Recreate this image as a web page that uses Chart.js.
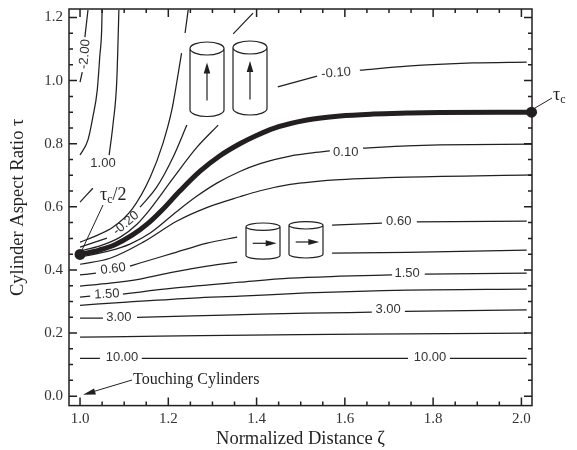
<!DOCTYPE html>
<html>
<head>
<meta charset="utf-8">
<title>Cylinder aspect ratio contours</title>
<script src="https://cdn.jsdelivr.net/npm/chart.js@4"></script>
<style>
  body { margin: 0; background: #fff; }
  canvas { display: block; }
</style>
</head>
<body>
<canvas id="chart01" width="577" height="450"></canvas>
<script>
// contour values, [distance, aspect ratio], null = break in the line
var contourA = [[1.0, 0.995], [1.005, 1.027], null, [1.011, 1.138], [1.018, 1.224]];
var contourB = [[1.0, 0.764], [1.018, 0.812], [1.029, 0.884], [1.039, 0.97], [1.045, 1.081], [1.049, 1.16], [1.05, 1.224]];
var contourC = [[1.0, 0.615], [1.029, 0.659], null, [1.066, 0.764], [1.075, 0.865], [1.083, 0.992], [1.086, 1.119], [1.088, 1.224]];
var contourD = [[1.0, 0.488], [1.029, 0.504], [1.075, 0.536], [1.118, 0.593], [1.159, 0.694], [1.188, 0.802], [1.208, 0.907], [1.22, 1.002], [1.23, 1.087], null, [1.238, 1.151], [1.245, 1.224]];
var contourE = [[1.0, 0.472], [1.061, 0.501], null, [1.136, 0.599], [1.174, 0.663], [1.211, 0.758], [1.242, 0.859], null, [1.347, 1.148], [1.392, 1.214]];
var contourF = [[1.0, 0.46], [1.045, 0.476], [1.091, 0.504], [1.129, 0.545], [1.159, 0.593], [1.211, 0.691], [1.265, 0.789], [1.313, 0.859]];
var criticalLine = [[1.0, 0.449], [1.043, 0.463], [1.079, 0.48], [1.118, 0.51], [1.152, 0.545], [1.186, 0.59], [1.226, 0.65], [1.272, 0.713], [1.317, 0.762], [1.362, 0.8], [1.401, 0.827], [1.437, 0.848], [1.514, 0.875], [1.589, 0.888], [1.664, 0.894], [1.741, 0.897], [1.815, 0.899], [2.023, 0.9]];
var contourG = [[1.0, 0.441], [1.068, 0.461], [1.113, 0.482], [1.159, 0.517], [1.22, 0.586], [1.265, 0.634], [1.31, 0.675], [1.362, 0.712], [1.408, 0.737], [1.476, 0.761], [1.521, 0.77], [1.566, 0.777], null, [1.641, 0.786], [1.741, 0.793], [1.815, 0.796], [2.024, 0.799]];
var contourH = [[1.0, 0.418], [1.068, 0.437], [1.143, 0.488], [1.22, 0.555], [1.29, 0.599], [1.362, 0.632], [1.408, 0.651], [1.476, 0.671], [1.532, 0.68], [1.589, 0.686], [1.741, 0.694], [2.024, 0.701]];
var contourI = [[1.0, 0.384], [1.036, 0.39], null, [1.113, 0.412], [1.136, 0.422], [1.211, 0.453], [1.288, 0.485], [1.356, 0.504], null, [1.571, 0.542], [1.684, 0.548], null, [1.763, 0.552], [2.012, 0.555]];
var contourJ = [[1.0, 0.349], [1.068, 0.358], [1.136, 0.371], [1.211, 0.393], [1.288, 0.412], [1.356, 0.425], null, [1.571, 0.453], [1.741, 0.456], [2.012, 0.463]];
var contourK = [[1.0, 0.314], [1.023, 0.317], null, [1.097, 0.323], [1.136, 0.33], [1.211, 0.342], [1.362, 0.361], [1.476, 0.374], [1.589, 0.38], [1.707, 0.384], null, [1.781, 0.387], [2.012, 0.39]];
var contourL = [[1.0, 0.288], [1.106, 0.298], [1.256, 0.311], [1.362, 0.317], [1.514, 0.327], [1.741, 0.336], [2.012, 0.339]];
var contourM = [[1.0, 0.247], [1.052, 0.247], null, [1.129, 0.25], [1.256, 0.254], [1.408, 0.26], [1.514, 0.263], [1.661, 0.266], null, [1.736, 0.269], [2.012, 0.273]];
var contourN = [[1.0, 0.187], [1.181, 0.19], [1.498, 0.195], [1.741, 0.197], [2.012, 0.2]];
var contourO = [[1.0, 0.12], [1.045, 0.12], null, [1.14, 0.12], [1.743, 0.12], null, [1.838, 0.12], [2.012, 0.12]];
var contourP = [[1.448, 0.98], [1.537, 1.014], null, [1.634, 1.033], [1.741, 1.046], [1.89, 1.056], [2.012, 1.059]];

var thinContours = [contourA, contourB, contourC, contourD, contourE, contourF, contourG, contourH, contourI, contourJ, contourK, contourL, contourM, contourN, contourO, contourP];

// labels sitting in the breaks
var labelTexts = ['-2.00', '1.00', '-0.20', '0.60', '1.50', '3.00', '10.00', '-0.10', '0.10', '0.60', '1.50', '3.00', '10.00'];
var labelX = [1.011, 1.052, 1.104, 1.075, 1.061, 1.088, 1.095, 1.58, 1.602, 1.722, 1.741, 1.698, 1.793];
var labelY = [1.084, 0.739, 0.548, 0.403, 0.323, 0.25, 0.124, 1.024, 0.773, 0.555, 0.39, 0.276, 0.124];
var labelAngle = [-85, 0, -40, -7, -3, 0, 0, -5, 0, 0, 0, 0, 0];

// tick values
var xMajor = [1.0, 1.2, 1.4, 1.6, 1.8, 2.0];
var yMajor = [0.0, 0.2, 0.4, 0.6, 0.8, 1.0, 1.2];
var xMinor = [1.05, 1.1, 1.15, 1.25, 1.3, 1.35, 1.45, 1.5, 1.55, 1.65, 1.7, 1.75, 1.85, 1.9, 1.95];
var yMinor = [0.05, 0.1, 0.15, 0.25, 0.3, 0.35, 0.45, 0.5, 0.55, 0.65, 0.7, 0.75, 0.85, 0.9, 0.95, 1.05, 1.1, 1.15];

var ink = '#231f20';
var serif = '"Liberation Serif", serif';
var sans = '"Liberation Sans", sans-serif';

function toPoints(list) {
  return list.map(function (p) {
    return p ? { x: p[0], y: p[1] } : { x: null, y: null };
  });
}

var datasets = thinContours.map(function (c) {
  return {
    data: toPoints(c),
    borderColor: ink,
    borderWidth: 1.25,
    pointRadius: 0,
    cubicInterpolationMode: 'monotone',
    clip: false
  };
});
datasets.push({
  data: toPoints(criticalLine),
  borderColor: ink,
  borderWidth: 5,
  cubicInterpolationMode: 'monotone',
  clip: false,
  pointBackgroundColor: ink,
  pointBorderWidth: 0,
  pointRadius: function (ctx) {
    return (ctx.dataIndex === 0 || ctx.dataIndex === criticalLine.length - 1) ? 5.5 : 0;
  }
});

// cylinder sketch, pixels
function upCylinder(ctx, cx, topY, botY, arrowBot, arrowTip) {
  cylinderBody(ctx, cx, topY, botY, 17, 6.5);
  ctx.beginPath();
  ctx.moveTo(cx, arrowBot);
  ctx.lineTo(cx, arrowTip + 8);
  ctx.stroke();
  ctx.beginPath();
  ctx.moveTo(cx, arrowTip);
  ctx.lineTo(cx + 3.3, arrowTip + 11);
  ctx.lineTo(cx - 3.3, arrowTip + 11);
  ctx.closePath();
  ctx.fill();
}

function rightCylinder(ctx, cx, topY, botY, arrowY, arrowStart, arrowTip) {
  cylinderBody(ctx, cx, topY, botY, 17, 3.7);
  ctx.beginPath();
  ctx.moveTo(arrowStart, arrowY);
  ctx.lineTo(arrowTip - 8, arrowY);
  ctx.stroke();
  ctx.beginPath();
  ctx.moveTo(arrowTip, arrowY);
  ctx.lineTo(arrowTip - 11, arrowY - 3);
  ctx.lineTo(arrowTip - 11, arrowY + 3);
  ctx.closePath();
  ctx.fill();
}

function cylinderBody(ctx, cx, topY, botY, rx, ry) {
  ctx.beginPath();
  ctx.ellipse(cx, topY, rx, ry, 0, 0, Math.PI * 2);
  ctx.moveTo(cx - rx, topY);
  ctx.lineTo(cx - rx, botY);
  ctx.ellipse(cx, botY, rx, ry, 0, Math.PI, 0, true);
  ctx.lineTo(cx + rx, topY);
  ctx.stroke();
}

function tauText(ctx, x, y, tail) {
  ctx.textAlign = 'left';
  ctx.textBaseline = 'alphabetic';
  ctx.font = '18px ' + serif;
  ctx.fillText('τ', x, y);
  var w = ctx.measureText('τ').width;
  ctx.font = '12px ' + serif;
  ctx.fillText('c', x + w, y + 3);
  var w2 = ctx.measureText('c').width;
  if (tail) {
    ctx.font = '18px ' + serif;
    ctx.fillText(tail, x + w + w2, y);
  }
}

var decorations = {
  id: 'decorations',
  afterDatasetsDraw: function (chart) {
    var ctx = chart.ctx;
    var x = chart.scales.x;
    var y = chart.scales.y;
    var area = chart.chartArea;

    ctx.save();
    ctx.strokeStyle = ink;
    ctx.fillStyle = ink;

    // frame and inward ticks on all four sides
    ctx.lineWidth = 1.5;
    ctx.strokeRect(area.left, area.top, area.right - area.left, area.bottom - area.top);
    function xTicks(list, len) {
      list.forEach(function (v) {
        var px = x.getPixelForValue(v);
        ctx.beginPath();
        ctx.moveTo(px, area.bottom);
        ctx.lineTo(px, area.bottom - len);
        ctx.moveTo(px, area.top);
        ctx.lineTo(px, area.top + len);
        ctx.stroke();
      });
    }
    function yTicks(list, len) {
      list.forEach(function (v) {
        var py = y.getPixelForValue(v);
        ctx.beginPath();
        ctx.moveTo(area.left, py);
        ctx.lineTo(area.left + len, py);
        ctx.moveTo(area.right, py);
        ctx.lineTo(area.right - len, py);
        ctx.stroke();
      });
    }
    xTicks(xMajor, 8);
    xTicks(xMinor, 4);
    yTicks(yMajor, 8);
    yTicks(yMinor, 4);

    // contour labels
    ctx.fillStyle = '#333';
    ctx.font = '13px ' + sans;
    ctx.textAlign = 'center';
    ctx.textBaseline = 'middle';
    labelTexts.forEach(function (t, i) {
      ctx.save();
      ctx.translate(x.getPixelForValue(labelX[i]), y.getPixelForValue(labelY[i]));
      ctx.rotate(labelAngle[i] * Math.PI / 180);
      ctx.fillText(t, 0, 0);
      ctx.restore();
    });

    // cylinders
    ctx.fillStyle = ink;
    ctx.lineWidth = 1.2;
    upCylinder(ctx, 207, 48.5, 110, 100.5, 62.5);
    upCylinder(ctx, 250, 47.5, 108.5, 99.5, 61);
    rightCylinder(ctx, 263, 226.7, 255.5, 243.3, 252.7, 276.7);
    rightCylinder(ctx, 306, 225.3, 254.3, 242, 295.7, 319.3);

    // leader lines
    ctx.lineWidth = 1;
    ctx.beginPath();
    ctx.moveTo(103, 205);
    ctx.lineTo(82, 250);
    ctx.moveTo(535, 108);
    ctx.lineTo(552, 98);
    ctx.moveTo(132, 380);
    ctx.lineTo(92, 392);
    ctx.stroke();
    ctx.beginPath();
    ctx.moveTo(83, 394.7);
    ctx.lineTo(94, 388.5);
    ctx.lineTo(96, 394.5);
    ctx.closePath();
    ctx.fill();

    tauText(ctx, 100, 200, '/2');
    tauText(ctx, 553, 100);

    ctx.font = '16px ' + serif;
    ctx.textAlign = 'left';
    ctx.textBaseline = 'alphabetic';
    ctx.fillText('Touching Cylinders', 133, 384);
    ctx.restore();
  }
};

var chart = new Chart(document.getElementById('chart01').getContext('2d'), {
  type: 'line',
  data: { datasets: datasets },
  plugins: [decorations],
  options: {
    responsive: false,
    animation: false,
    layout: { padding: { top: 9, right: 45, left: 0, bottom: 0 } },
    plugins: { legend: { display: false }, tooltip: { enabled: false } },
    scales: {
      x: {
        type: 'linear',
        min: 0.975,
        max: 2.024,
        afterFit: function (axis) {
          axis.height = 44.4;
          axis.paddingLeft = 0;
          axis.paddingRight = 0;
        },
        afterBuildTicks: function (axis) {
          axis.ticks = xMajor.map(function (v) { return { value: v }; });
        },
        border: { display: false },
        grid: { display: false, drawTicks: false },
        ticks: {
          autoSkip: false,
          maxRotation: 0,
          padding: 4,
          color: '#333',
          font: { family: serif, size: 15 },
          callback: function (v) { return v.toFixed(1); }
        },
        title: {
          display: true,
          text: 'Normalized Distance ζ',
          color: ink,
          font: { family: serif, size: 18.5 },
          padding: { top: 0, bottom: 0 }
        }
      },
      y: {
        type: 'linear',
        min: -0.03,
        max: 1.227,
        afterFit: function (axis) {
          axis.width = 69;
          axis.paddingTop = 0;
          axis.paddingBottom = 0;
        },
        afterBuildTicks: function (axis) {
          axis.ticks = yMajor.map(function (v) { return { value: v }; });
        },
        border: { display: false },
        grid: { display: false, drawTicks: false },
        ticks: {
          autoSkip: false,
          padding: 6,
          color: '#333',
          font: { family: serif, size: 15 },
          callback: function (v) { return v.toFixed(1); }
        },
        title: {
          display: true,
          text: 'Cylinder Aspect Ratio τ',
          color: ink,
          font: { family: serif, size: 18.5 },
          padding: { top: 7, bottom: 0 }
        }
      }
    }
  }
});
</script>
</body>
</html>
